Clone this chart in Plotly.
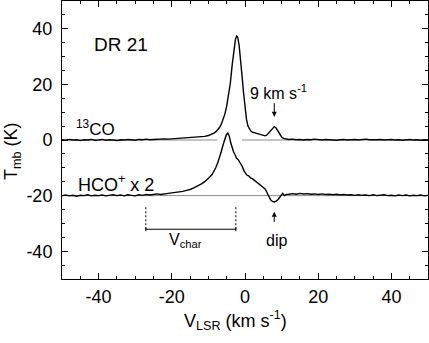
import plotly.graph_objects as go

# ---------------- data ----------------
co13_velocity = [-50, -49, -48, -47, -46, -45, -44, -43, -42, -41, -40, -39, -38, -37, -36, -35,
                 -34, -33, -32, -31, -30, -29, -28, -27, -26, -25, -24, -23, -22, -21, -20, -19,
                 -18, -17, -16, -15, -14, -13, -12, -11, -10, -9, -8.5, -8, -7.5, -7, -6.5, -6,
                 -5.5, -5, -4.5, -4, -3.5, -3, -2.6, -2.3, -2, -1.6, -1.2, -0.8, -0.4, 0, 0.4,
                 0.8, 1.2, 1.6, 2, 2.5, 3, 3.5, 4, 4.5, 5, 5.5, 6, 6.5, 7, 7.5, 8, 8.5, 9, 9.5,
                 10, 10.5, 11, 12, 13, 14, 15, 16, 17, 18, 19, 20, 21, 22, 23, 24, 25, 26, 27,
                 28, 29, 30, 31, 32, 33, 34, 35, 36, 37, 38, 39, 40, 41, 42, 43, 44, 45, 46, 47,
                 48, 49, 50]
co13_temp = [0.1, -0.1, 0.2, 0.0, 0.1, -0.2, 0.1, 0.0, 0.2, -0.1, 0.0, 0.2, -0.1, 0.1, 0.0, -0.2,
             0.1, 0.0, 0.2, 0.1, -0.1, 0.2, 0.1, 0.3, 0.1, 0.2, 0.3, 0.2, 0.4, 0.3, 0.4, 0.5,
             0.4, 0.6, 0.6, 0.7, 0.8, 0.9, 1.1, 1.3, 1.6, 2.1, 2.5, 2.9, 3.5, 4.4, 5.6, 7.2,
             9.3, 12.2, 16.0, 20.5, 27.0, 33.0, 36.3, 37.4, 37.0, 34.0, 29.5, 23.0, 17.0, 11.5, 7.5,
             5.0, 3.8, 3.2, 2.8, 2.6, 2.4, 2.2, 2.1, 1.8, 1.6, 1.5, 1.8, 2.6, 3.6, 4.4, 4.8, 4.3, 3.2, 2.0,
             1.1, 0.6, 0.4, 0.2, 0.3, 0.1, 0.2, 0.0, 0.2, 0.1, 0.3, 0.1, 0.0, 0.2, 0.1, 0.2, -0.1, 0.1, 0.2,
             0.0, 0.1, 0.2, 0.0, 0.1, 0.3, 0.1, 0.0, 0.1, 0.2, 0.0, 0.1, 0.2, 0.0, 0.1, -0.1, 0.1, 0.2, 0.0, 0.1,
             -0.1, 0.1, 0.0]

# HCO+ spectrum as plotted (scaled x2 and offset to the -20 K baseline)
hco_velocity = [-50, -49, -48, -47, -46, -45, -44, -43, -42, -41, -40, -39, -38, -37, -36, -35,
                -34, -33, -32, -31, -30, -29, -28, -27, -26, -25, -24, -23, -22, -21, -20, -19,
                -18, -17, -16, -15, -14, -13, -12, -11, -10, -9.5, -9, -8.5, -8, -7.5, -7, -6.5,
                -6, -5.5, -5.1, -4.7, -4.3, -3.9, -3.5, -3.1, -2.7, -2.3, -1.9, -1.5, -1.1, -0.7,
                -0.3, 0.1, 0.5, 1, 1.5, 2, 2.5, 3, 3.5, 4, 4.5, 5, 5.5, 6, 6.5, 7, 7.5, 8, 8.5, 9,
                9.5, 9.9, 10.3, 10.8, 11.3, 12, 13, 14, 15, 16, 17, 18, 19, 20, 21, 22, 23, 24, 25,
                26, 27, 28, 29, 30, 31, 32, 33, 34, 35, 36, 37, 38, 39, 40, 41, 42, 43, 44, 45, 46,
                47, 48, 49, 50]
hco_temp = [-20.0, -19.8, -20.1, -19.9, -20.2, -19.9, -20.0, -19.7, -20.1, -19.9, -20.0, -19.8, -20.1, -19.9, -19.7, -20.0,
            -19.8, -20.1, -19.7, -19.9, -20.1, -19.7, -19.9, -19.6, -19.8, -19.6, -19.4, -19.6, -19.3, -19.2, -19.0, -18.9,
            -18.6, -18.5, -18.1, -17.8, -17.2, -16.6, -15.9, -15.0, -13.9, -13.1, -12.4, -11.3, -10.0, -8.4, -6.5, -4.2,
            -1.8, 0.4, 1.9, 2.5, 1.4, -1.0, -3.0, -4.3, -5.4, -6.6, -7.0, -7.9, -8.3, -9.6,
            -11.0, -12.0, -12.6, -12.9, -13.6, -13.9, -14.4, -15.0, -15.3, -15.9, -16.3, -16.8, -17.6, -18.9, -20.3, -21.5, -22.1, -22.3, -22.0, -21.5,
            -20.6, -19.8, -19.2, -20.0, -19.6, -19.5, -19.3, -19.5, -19.2, -19.4, -19.3, -19.5, -19.4, -19.6, -19.4, -19.6, -19.5, -19.7, -19.5,
            -19.8, -19.6, -19.8, -19.7, -19.9, -19.7, -19.9, -19.8, -20.0, -19.7, -20.0, -19.9, -19.7, -20.0, -19.9, -20.1, -19.8, -20.0, -19.8, -20.1, -19.9,
            -20.0, -19.8, -20.1, -19.9]

co13_baseline = 0
hco_baseline = -20
co13_baseline_gap = [-7.5, -0.8]      # the 13CO zero line is interrupted under the main peak
bump_velocity = 8                    # "9 km s-1" feature
dip_velocity = 8
vchar_range = [-27.1, -2.5]          # V_char bracket ends (km/s)
vchar_level = -32.1
x_ticks = [-40, -20, 0, 20, 40]
x_tick_labels = ["-40", "-20", "0", "20", "40"]
y_ticks = [-40, -20, 0, 20, 40]
y_tick_labels = ["-40", "-20", "0", "20", "40"]

FONT = "Liberation Sans, Arial, Helvetica, sans-serif"

fig = go.Figure()
fig.add_trace(go.Scatter(x=co13_velocity, y=co13_temp, mode="lines",
                         line=dict(color="black", width=1.4), showlegend=False))
fig.add_trace(go.Scatter(x=hco_velocity, y=hco_temp, mode="lines",
                         line=dict(color="black", width=1.4), showlegend=False))

shapes = []
gray = dict(color="#8a8a8a", width=1)
shapes.append(dict(type="line", xref="x", yref="y", x0=-50, x1=co13_baseline_gap[0],
                   y0=co13_baseline, y1=co13_baseline, line=gray, layer="below"))
shapes.append(dict(type="line", xref="x", yref="y", x0=co13_baseline_gap[1], x1=50,
                   y0=co13_baseline, y1=co13_baseline, line=gray, layer="below"))
shapes.append(dict(type="line", xref="x", yref="y", x0=-50, x1=50,
                   y0=hco_baseline, y1=hco_baseline, line=gray, layer="below"))
# V_char bracket
blk = dict(color="black", width=1)
shapes.append(dict(type="line", xref="x", yref="y", x0=vchar_range[0], x1=vchar_range[1],
                   y0=vchar_level, y1=vchar_level, line=blk))
for xv in vchar_range:
    shapes.append(dict(type="line", xref="x", yref="y", x0=xv, x1=xv,
                       y0=vchar_level - 0.7, y1=vchar_level + 0.7, line=blk))
    shapes.append(dict(type="line", xref="x", yref="y", x0=xv, x1=xv,
                       y0=vchar_level, y1=-23.5, line=dict(color="black", width=1, dash="2px,2px")))

ann = []
ann.append(dict(x=-34, y=34.2, xref="x", yref="y", text="DR 21", showarrow=False,
                font=dict(size=19, color="black", family=FONT)))
ann.append(dict(x=-46.8, y=4.3, xref="x", yref="y", text="<sup>13</sup>CO", showarrow=False,
                xanchor="left", font=dict(size=17, color="black", family=FONT)))
ann.append(dict(x=-46.3, y=-15.6, xref="x", yref="y", text="HCO<sup>+</sup> x 2", showarrow=False,
                xanchor="left", font=dict(size=18, color="black", family=FONT)))
ann.append(dict(x=9.1, y=17.1, xref="x", yref="y", text="9 km s<sup>-1</sup>", showarrow=False,
                font=dict(size=16, color="black", family=FONT)))
ann.append(dict(x=bump_velocity, y=8.4, ax=bump_velocity, ay=13.8, xref="x", yref="y",
                axref="x", ayref="y", text="", showarrow=True, arrowhead=2, arrowsize=1,
                arrowwidth=1, arrowcolor="black", standoff=0, startstandoff=0))
ann.append(dict(x=dip_velocity, y=-25.8, ax=dip_velocity, ay=-30.0, xref="x", yref="y",
                axref="x", ayref="y", text="", showarrow=True, arrowhead=2, arrowsize=1,
                arrowwidth=1, arrowcolor="black", standoff=0, startstandoff=0))
ann.append(dict(x=8.5, y=-36, xref="x", yref="y", text="dip", showarrow=False,
                font=dict(size=16, color="black", family=FONT)))
ann.append(dict(x=-16.3, y=-36, xref="x", yref="y", text="V<sub>char</sub>", showarrow=False,
                font=dict(size=16, color="black", family=FONT)))
# axis titles
ann.append(dict(x=0.473, y=-0.151, xref="paper", yref="paper", xanchor="center", yanchor="middle",
                text="V<sub>LSR</sub> (km s<sup>-1</sup>)", showarrow=False,
                font=dict(size=18, color="black", family=FONT)))
ann.append(dict(x=-0.137, y=0.46, xref="paper", yref="paper", textangle=-90,
                xanchor="center", yanchor="middle",
                text="T<sub>mb</sub> (K)", showarrow=False,
                font=dict(size=18, color="black", family=FONT)))

axis_common = dict(showline=True, linecolor="black", linewidth=1, mirror="ticks",
                   ticks="inside", ticklen=6, tickwidth=1, tickcolor="black",
                   showgrid=False, zeroline=False, automargin=False,
                   tickfont=dict(size=18, color="black", family=FONT),
                   minor=dict(ticks="inside", ticklen=3, dtick=5, tickcolor="black", showgrid=False))

fig.update_xaxes(range=[-50, 50], tickvals=x_ticks, ticktext=x_tick_labels,
                 ticklabelstandoff=1, **axis_common)
fig.update_yaxes(range=[-50, 50], tickvals=y_ticks, ticktext=y_tick_labels,
                 ticklabelstandoff=5, **axis_common)

fig.update_layout(width=429, height=343, margin=dict(l=62, r=1, t=1, b=64, autoexpand=False),
                  paper_bgcolor="white", plot_bgcolor="white",
                  shapes=shapes, annotations=ann, font=dict(family=FONT, color="black"))

fig.write_html("out.html", config={"displayModeBar": False},
               post_script="document.body.style.margin='0';document.body.style.overflow='hidden';")
